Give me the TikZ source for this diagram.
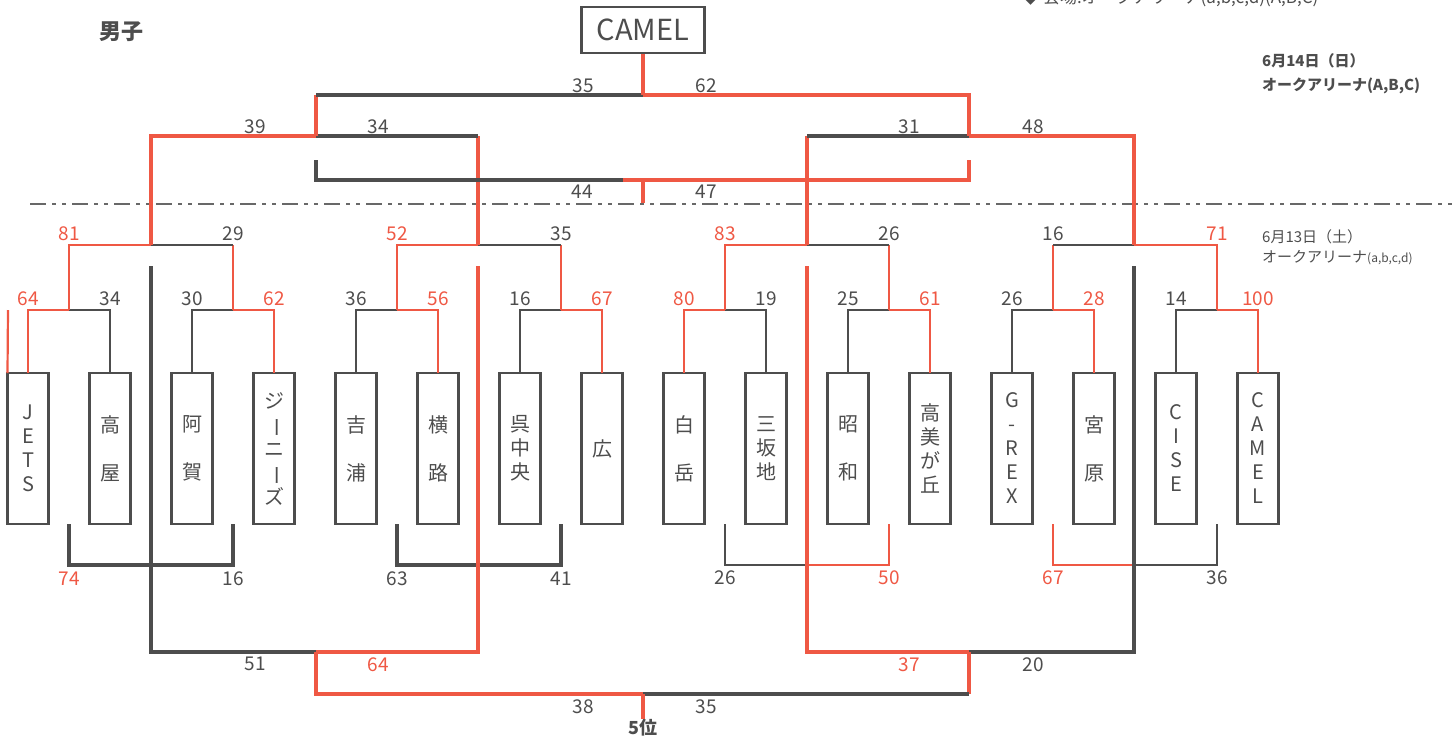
\documentclass[tikz,border=0pt]{standalone}
\usepackage{fontspec}
\setmainfont{Noto Sans CJK JP}
\usepackage{graphicx}
\usetikzlibrary{positioning,calc}
\definecolor{winred}{RGB}{239,88,68}
\definecolor{losegray}{RGB}{77,77,77}
\newcommand{\tatebar}{\rotatebox[origin=c]{-90}{ー}}

\begin{document}
\begin{tikzpicture}[x=1pt, y=-1pt, color=losegray,
    team/.style={draw=losegray, line width=2.5pt, minimum width=41pt, minimum height=151pt, inner sep=0pt, outer sep=0pt, align=center, font=\fontsize{20}{24}\selectfont},
    score/.style={font=\fontsize{19}{19}\selectfont, inner sep=0pt},
    wtxt/.style={score, text=winred},
    ltxt/.style={score, text=losegray},
    win/.style={winred, line width=2.2pt},
    lose/.style={losegray, line width=2.2pt},
    winthick/.style={winred, line width=3.8pt},
    losethick/.style={losegray, line width=3.8pt}
]
\useasboundingbox (0,0) rectangle (1452,740);

% headings
\node[font=\bfseries\fontsize{22}{22}\selectfont] (title) at (121,32) {男子};
\node[anchor=base west, inner sep=0pt, font=\fontsize{17}{17}\selectfont] (venue) at (1022,3) {◆ 会場:オークアリーナ(a,b,c,d)(A,B,C)};
\node[anchor=west, align=left, inner sep=0pt, font=\bfseries\fontsize{15}{24}\selectfont] (day2) at (1262,74) {6月14日（日）\\オークアリーナ(A,B,C)};
\node[anchor=west, align=left, inner sep=0pt, font=\fontsize{15}{20}\selectfont] (day1) at (1262,247) {6月13日（土）\\オークアリーナ{\fontsize{12}{20}\selectfont(a,b,c,d)}};
\node[draw=losegray, line width=2.5pt, minimum width=123pt, minimum height=46pt, font=\fontsize{29}{29}\selectfont] (champ) at (643,30) {CAMEL};
\node[font=\bfseries\fontsize{18}{18}\selectfont, inner sep=0pt] (fifth) at (643,728) {5位};

% day divider
\coordinate (divl) at (30,204);
\coordinate (divr) at (1452,204);
\draw[losegray!85, line width=1.3pt, dash pattern=on 16pt off 6pt on 4pt off 6pt on 4pt off 6pt] (divl) -- (divr);

% teams
\node[team] (t1) at (28,448.5) {J\\E\\T\\S};
\node[team, right=41pt of t1] (t2) {高\\[24pt]屋};
\node[team, right=41pt of t2] (t3) {阿\\[24pt]賀};
\node[team, right=41pt of t3] (t4) {ジ\\\tatebar\\ニ\\\tatebar\\ズ};
\node[team, right=41pt of t4] (t5) {吉\\[24pt]浦};
\node[team, right=41pt of t5] (t6) {横\\[24pt]路};
\node[team, right=41pt of t6] (t7) {呉\\中\\央};
\node[team, right=41pt of t7] (t8) {広};
\node[team, right=41pt of t8] (t9) {白\\[24pt]岳};
\node[team, right=41pt of t9] (t10) {三\\坂\\地};
\node[team, right=41pt of t10] (t11) {昭\\[24pt]和};
\node[team, right=41pt of t11] (t12) {高\\美\\が\\丘};
\node[team, right=41pt of t12] (t13) {G\\-\\R\\E\\X};
\node[team, right=41pt of t13] (t14) {宮\\[24pt]原};
\node[team, right=41pt of t14] (t15) {C\\I\\S\\E};
\node[team, right=41pt of t15] (t16) {C\\A\\M\\E\\L};

% junctions
\coordinate (p1) at (69,310);   \coordinate (p2) at (233,310);
\coordinate (p3) at (397,310);  \coordinate (p4) at (561,310);
\coordinate (p5) at (725,310);  \coordinate (p6) at (889,310);
\coordinate (p7) at (1053,310); \coordinate (p8) at (1217,310);
\coordinate (q1) at (151,245);  \coordinate (q2) at (478,245);
\coordinate (q3) at (807,245);  \coordinate (q4) at (1134,245);
\coordinate (s1) at (316,136);  \coordinate (s2) at (969,136);
\coordinate (f) at (643,95);
\coordinate (thl) at (316,160); \coordinate (thr) at (969,160);
\coordinate (th) at (643,180);  \coordinate (thm) at (623,180);
\coordinate (thb) at (643,203);
\coordinate (stray) at (8,310);
\coordinate (k1) at (151,565);  \coordinate (k2) at (478,565);
\coordinate (k3) at (807,565);  \coordinate (k4) at (1134,565);
\coordinate (u1) at (151,266);  \coordinate (u2) at (478,266);
\coordinate (u3) at (807,266);  \coordinate (u4) at (1134,266);
\coordinate (m1) at (316,652);  \coordinate (m2) at (969,652);
\coordinate (v) at (643,694);

% first round
\draw[win] (t1.north west) -- (stray);
\draw[win] (t1.north) |- node[above=3pt, wtxt] {64} (p1);
\draw[lose] (t2.north) |- node[above=3pt, ltxt] {34} (p1);
\draw[lose] (t3.north) |- node[above=3pt, ltxt] {30} (p2);
\draw[win] (t4.north) |- node[above=3pt, wtxt] {62} (p2);
\draw[lose] (t5.north) |- node[above=3pt, ltxt] {36} (p3);
\draw[win] (t6.north) |- node[above=3pt, wtxt] {56} (p3);
\draw[lose] (t7.north) |- node[above=3pt, ltxt] {16} (p4);
\draw[win] (t8.north) |- node[above=3pt, wtxt] {67} (p4);
\draw[win] (t9.north) |- node[above=3pt, wtxt] {80} (p5);
\draw[lose] (t10.north) |- node[above=3pt, ltxt] {19} (p5);
\draw[lose] (t11.north) |- node[above=3pt, ltxt] {25} (p6);
\draw[win] (t12.north) |- node[above=3pt, wtxt] {61} (p6);
\draw[lose] (t13.north) |- node[above=3pt, ltxt] {26} (p7);
\draw[win] (t14.north) |- node[above=3pt, wtxt] {28} (p7);
\draw[lose] (t15.north) |- node[above=3pt, ltxt] {14} (p8);
\draw[win] (t16.north) |- node[above=3pt, wtxt] {100} (p8);

% quarter finals
\draw[win] (p1) |- node[above=3pt, wtxt] {81} (q1);
\draw[win] (p2) -- (p2 |- q1);
\draw[lose] (p2 |- q1) node[above=3pt, ltxt] {29} -- (q1);
\draw[win] (p3) |- node[above=3pt, wtxt] {52} (q2);
\draw[win] (p4) -- (p4 |- q2);
\draw[lose] (p4 |- q2) node[above=3pt, ltxt] {35} -- (q2);
\draw[win] (p5) |- node[above=3pt, wtxt] {83} (q3);
\draw[win] (p6) -- (p6 |- q3);
\draw[lose] (p6 |- q3) node[above=3pt, ltxt] {26} -- (q3);
\draw[win] (p7) -- (p7 |- q4);
\draw[lose] (p7 |- q4) node[above=3pt, ltxt] {16} -- (q4);
\draw[win] (p8) |- node[above=3pt, wtxt] {71} (q4);

% semi finals
\draw[winthick] (q1) |- (s1);
\draw[winthick] (q2) -- (q2 |- s1);
\draw[losethick] (q2 |- s1) -- (s1);
\draw[winthick] (q3) -- (q3 |- s2);
\draw[losethick] (q3 |- s2) -- (s2);
\draw[winthick] (q4) |- (s2);
\node[ltxt, above=2pt] (sc39) at ($(s1)+(-61,0)$) {39};
\node[ltxt, above=2pt] (sc34) at ($(s1)+(62,0)$) {34};
\node[ltxt, above=2pt] (sc31) at ($(s2)+(-60,0)$) {31};
\node[ltxt, above=2pt] (sc48) at ($(s2)+(64,0)$) {48};

% final
\draw[winthick] (s1) -- (s1 |- f);
\draw[losethick] (s1 |- f) -- (f);
\draw[winthick] (s2) |- (f);
\draw[winthick] (f) -- (champ.south);
\node[ltxt, above=2pt] (sc35f) at ($(f)+(-60,0)$) {35};
\node[ltxt, above=2pt] (sc62f) at ($(f)+(63,0)$) {62};

% third place
\draw[losethick] (thl) |- (thm);
\draw[winthick] (thr) |- (thm);
\draw[winthick] (th) -- (thb);
\node[ltxt, below=5pt] (sc44) at ($(th)+(-61,0)$) {44};
\node[ltxt, below=5pt] (sc47) at ($(th)+(63,0)$) {47};

% consolation
\draw[losethick] (p1 |- t1.south) |- node[below=5pt, wtxt] {74} (k1);
\draw[losethick] (p2 |- t3.south) |- node[below=5pt, ltxt] {16} (k1);
\draw[losethick] (p3 |- t5.south) |- node[below=5pt, ltxt] {63} (k2);
\draw[losethick] (p4 |- t7.south) |- node[below=5pt, ltxt] {41} (k2);
\draw[lose] (p5 |- t9.south) |- node[below=5pt, ltxt] {26} (k3);
\draw[win] (p6 |- t11.south) |- node[below=5pt, wtxt] {50} (k3);
\draw[win] (p7 |- t13.south) |- node[below=5pt, wtxt] {67} (k4);
\draw[lose] (p8 |- t15.south) |- node[below=5pt, ltxt] {36} (k4);

\draw[losethick] (u1) |- (m1);
\draw[winthick] (u2) |- (m1);
\draw[winthick] (u3) |- (m2);
\draw[losethick] (u4) |- (m2);
\node[ltxt, below=5pt] (sc51) at ($(m1)+(-61,0)$) {51};
\node[wtxt, below=5pt] (sc64) at ($(m1)+(62,0)$) {64};
\node[wtxt, below=5pt] (sc37) at ($(m2)+(-60,0)$) {37};
\node[ltxt, below=5pt] (sc20) at ($(m2)+(64,0)$) {20};

% fifth place
\draw[winthick] (m1) |- (v);
\draw[winthick] (m2) -- (m2 |- v);
\draw[losethick] (m2 |- v) -- (v);
\draw[winthick] (v) -- (fifth.north);
\node[ltxt, below=5pt] (sc38) at ($(v)+(-60,0)$) {38};
\node[ltxt, below=5pt] (sc35) at ($(v)+(63,0)$) {35};
\end{tikzpicture}
\end{document}
